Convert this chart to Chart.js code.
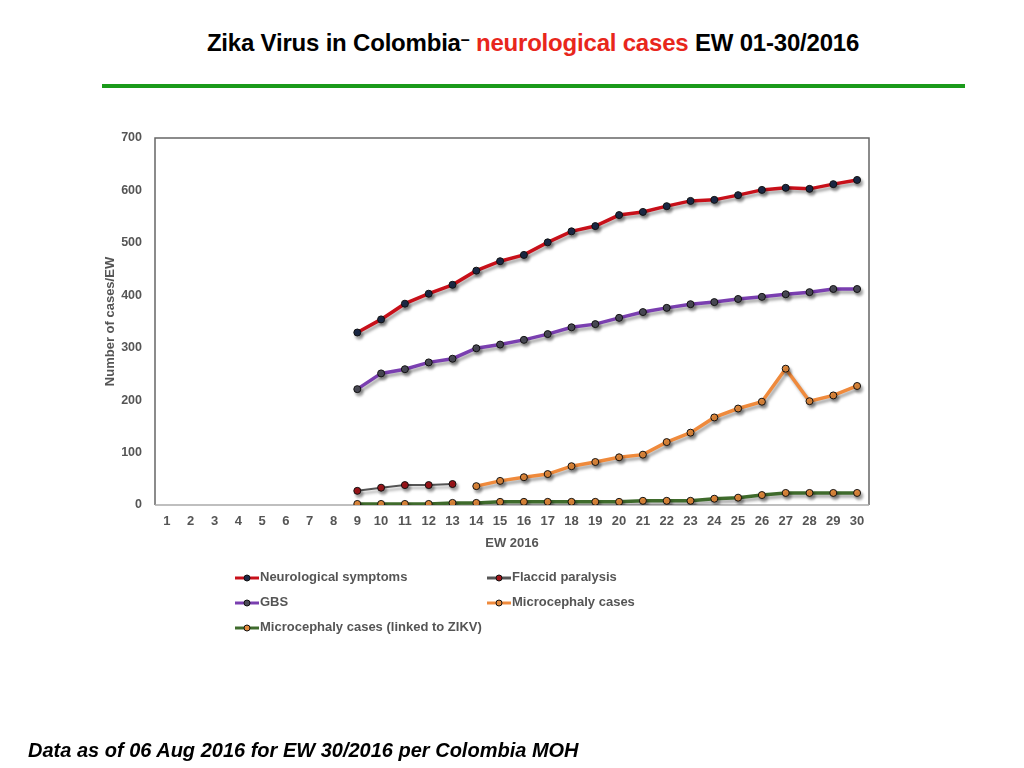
<!DOCTYPE html>
<html>
<head>
<meta charset="utf-8">
<script src="https://cdn.jsdelivr.net/npm/chart.js"></script>
<style>
  html, body { margin: 0; padding: 0; background: #fff; }
  body { width: 1024px; height: 768px; position: relative; overflow: hidden;
         font-family: "Liberation Sans", Arial, sans-serif; }
  #title { position: absolute; top: 29px; left: 0; width: 1066px; text-align: center;
           font-size: 24px; font-weight: bold; color: #000; letter-spacing: -0.2px; }
  #title .red { color: #e8261c; }
  #title .dash { font-size: 16px; vertical-align: 6px; }
  #rule { position: absolute; left: 102px; top: 84px; width: 863px; height: 4px; background: #1a9a1a; }
  #chartBox { position: absolute; left: 0; top: 0; width: 1024px; height: 768px; }
  #legend { position: absolute; left: 0; top: 0; }
  .lg { position: absolute; font-size: 13px; font-weight: bold; color: #555; white-space: nowrap; }
  .lg canvas { vertical-align: middle; margin-right: 1px; }
  #footer { position: absolute; left: 28px; top: 739px; font-size: 20px; font-weight: bold;
            font-style: italic; color: #000; }
</style>
</head>
<body>
<div id="title">Zika Virus in Colombia<span class="dash">–</span> <span class="red">neurological cases</span> EW 01-30/2016</div>
<div id="rule"></div>
<div id="chartBox"><canvas id="zikaChart" width="1024" height="768"></canvas></div>
<div id="legend"></div>
<div id="footer">Data as of 06 Aug 2016 for EW 30/2016 per Colombia MOH</div>

<script>
// ---------- data ----------
const weeks = ["1","2","3","4","5","6","7","8","9","10","11","12","13","14","15",
               "16","17","18","19","20","21","22","23","24","25","26","27","28","29","30"];

const neuroSymptoms = [null,null,null,null,null,null,null,null,
    329,354,384,403,420,447,465,477,501,522,532,553,559,570,580,582,591,601,605,603,612,620];

const gbsCases = [null,null,null,null,null,null,null,null,
    221,251,259,272,279,299,306,315,326,339,345,357,368,376,383,387,393,397,402,406,412,412];

const flaccidParalysis = [null,null,null,null,null,null,null,null,
    27,33,38,38,40,null,null,null,null,null,null,null,null,null,null,null,null,null,null,null,null,null];

const microcephaly = [null,null,null,null,null,null,null,null,null,null,null,null,null,
    36,46,53,59,74,82,91,96,120,138,167,184,197,260,198,209,227];

const microcephalyZikv = [null,null,null,null,null,null,null,null,
    2,2,2,2,4,4,6,6,6,6,6,6,8,8,8,12,14,19,23,23,23,23];

const yTicks = [0, 100, 200, 300, 400, 500, 600, 700];

document.addEventListener("DOMContentLoaded", function () {

    Chart.defaults.font.family = "'Liberation Sans', Arial, sans-serif";
    Chart.defaults.color = "#555";

    const series = [
        { label: "Neurological symptoms", data: neuroSymptoms, line: "#c8101a", dot: "#1c2a48", width: 3.5 },
        { label: "GBS", data: gbsCases, line: "#7a3fb0", dot: "#4c4c58", width: 3.5 },
        { label: "Microcephaly cases (linked to ZIKV)", data: microcephalyZikv, line: "#3f6b2c", dot: "#e38a3c", width: 3.5 },
        { label: "Flaccid paralysis", data: flaccidParalysis, line: "#555555", dot: "#a0151a", width: 2 },
        { label: "Microcephaly cases", data: microcephaly, line: "#ef8a3c", dot: "#e38a3c", width: 3.5 }
    ];

    // soft drop shadow under the lines, like the original slide
    const shadowPlugin = {
        id: "shadow",
        beforeDatasetsDraw(chart) {
            const c = chart.ctx;
            c.save();
            c.shadowColor = "rgba(0,0,0,0.35)";
            c.shadowBlur = 3;
            c.shadowOffsetX = 2;
            c.shadowOffsetY = 3;
        },
        afterDatasetsDraw(chart) {
            chart.ctx.restore();
        }
    };

    // box round the plot area
    const boxPlugin = {
        id: "box",
        beforeDatasetsDraw(chart) {
            const a = chart.chartArea, c = chart.ctx;
            c.save();
            c.lineWidth = 1.5;
            c.strokeStyle = "#666";
            c.beginPath();
            c.moveTo(a.left, a.bottom);
            c.lineTo(a.left, a.top);
            c.lineTo(a.right, a.top);
            c.lineTo(a.right, a.bottom);
            c.stroke();
            c.strokeStyle = "#aaa";
            c.beginPath();
            c.moveTo(a.left, a.bottom);
            c.lineTo(a.right, a.bottom);
            c.stroke();
            c.restore();
        }
    };

    new Chart(document.getElementById("zikaChart"), {
        type: "line",
        data: {
            labels: weeks,
            datasets: series.map(s => ({
                label: s.label,
                data: s.data,
                borderColor: s.line,
                borderWidth: s.width,
                tension: 0,
                spanGaps: false,
                pointRadius: 3.5,
                pointBorderWidth: 1,
                pointBorderColor: "#111",
                pointBackgroundColor: s.dot,
                fill: false
            }))
        },
        options: {
            responsive: false,
            animation: false,
            layout: { padding: { left: 95, top: 138, right: 155, bottom: 213 } },
            plugins: {
                legend: { display: false },
                tooltip: { enabled: false }
            },
            scales: {
                x: {
                    offset: true,
                    grid: { display: false, drawTicks: false },
                    border: { display: false },
                    ticks: { padding: 9, font: { size: 13, weight: "bold" }, color: "#555",
                             maxRotation: 0, autoSkip: false },
                    title: { display: true, text: "EW 2016", padding: { top: 5 },
                             font: { size: 13, weight: "bold" }, color: "#555" },
                    afterFit(s) { s.height = 50; }
                },
                y: {
                    min: 0,
                    max: 700,
                    afterBuildTicks(s) { s.ticks = yTicks.map(v => ({ value: v })); },
                    grid: { display: false, drawTicks: false },
                    border: { display: false },
                    ticks: { padding: 13, font: { size: 12.5, weight: "bold" }, color: "#555" },
                    title: { display: true, text: "Number of cases/EW", padding: { top: 8 },
                             font: { size: 13, weight: "bold" }, color: "#555" },
                    afterFit(s) { s.width = 60; }
                }
            }
        },
        plugins: [boxPlugin, shadowPlugin]
    });

    // legend laid out in two columns, as on the slide
    const legendPos = [
        { x: 235, y: 577 }, { x: 235, y: 602 }, { x: 235, y: 627 },
        { x: 487, y: 577 }, { x: 487, y: 602 }
    ];
    const legend = document.getElementById("legend");
    series.forEach(function (s, i) {
        const item = document.createElement("div");
        item.className = "lg";
        item.style.left = legendPos[i].x + "px";
        item.style.top = (legendPos[i].y - 8) + "px";
        const sw = document.createElement("canvas");
        sw.width = 24; sw.height = 10;
        const c = sw.getContext("2d");
        c.strokeStyle = s.line;
        c.lineWidth = 3;
        c.beginPath(); c.moveTo(0, 5); c.lineTo(24, 5); c.stroke();
        c.fillStyle = s.dot; c.strokeStyle = "#111"; c.lineWidth = 1;
        c.beginPath(); c.arc(12, 5, 3, 0, Math.PI * 2); c.fill(); c.stroke();
        item.appendChild(sw);
        item.appendChild(document.createTextNode(s.label));
        legend.appendChild(item);
    });
});
</script>
</body>
</html>
